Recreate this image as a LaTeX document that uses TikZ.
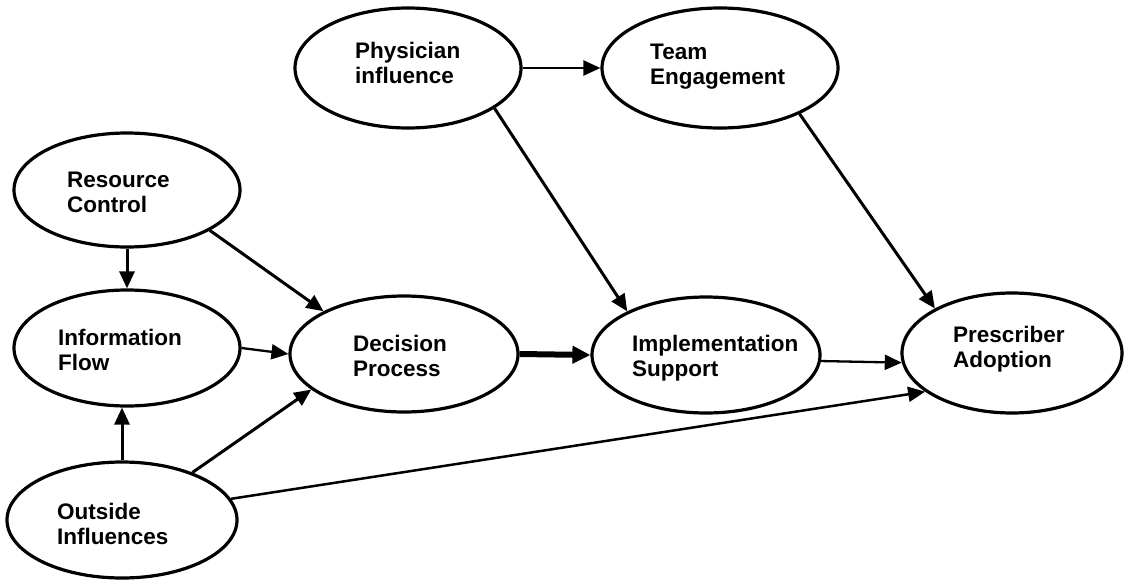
\documentclass[tikz,border=0pt]{standalone}
\usepackage{fontspec}
\setmainfont{Liberation Sans}
\usetikzlibrary{arrows.meta,shapes.geometric}
\begin{document}
\begin{tikzpicture}[x=1pt,y=-1pt,
  ell/.style={draw, ellipse, line width=3.2pt, inner sep=0pt},
  lbl/.style={anchor=west, align=left, inner sep=0pt, font=\fontsize{22.5}{25}\selectfont\bfseries},
  arr/.style={line width=3pt, -{Triangle[length=17pt,width=15pt]}},
  thinarr/.style={line width=2.3pt, -{Triangle[length=17pt,width=15pt]}},
  heavyarr/.style={line width=6pt, -{Triangle[length=18pt,width=17pt]}}]
\useasboundingbox (0,0) rectangle (1127,581);

% ellipses
\node[ell, minimum width=226pt, minimum height=120pt] (phys) at (408,68) {};
\node[ell, minimum width=236pt, minimum height=120pt] (team) at (720,68) {};
\node[ell, minimum width=226pt, minimum height=114pt] (res) at (127,190) {};
\node[ell, minimum width=226pt, minimum height=116pt] (info) at (127,348) {};
\node[ell, minimum width=228pt, minimum height=116pt] (dec) at (404,354) {};
\node[ell, minimum width=228pt, minimum height=116pt] (impl) at (706,355) {};
\node[ell, minimum width=220pt, minimum height=120pt] (pres) at (1012,353) {};
\node[ell, minimum width=230pt, minimum height=116pt] (out) at (122,520) {};

% labels
\node[lbl] (physT) at (355,63) {Physician\\influence};
\node[lbl] (teamT) at (650,67) {Team\\Engagement};
\node[lbl] (resT) at (67,192) {Resource\\Control};
\node[lbl] (infoT) at (58,350) {Information\\Flow};
\node[lbl] (decT) at (353,356) {Decision\\Process};
\node[lbl] (implT) at (632,358) {Implementation\\Support};
\node[lbl] (presT) at (953,349) {Prescriber\\Adoption};
\node[lbl] (outT) at (57,524) {Outside\\Influences};

% connectors
\draw[thinarr] (phys.east) -- (team.west);
\draw[arr] (phys.-25.5) -- (impl.151);
\draw[arr] (team.-30) -- (pres.150);
\draw[arr] (res.south) -- (info.north);
\draw[arr] (res.-26.6) -- (dec.152);
\draw[thinarr] (info.east) -- (dec.west);
\draw[arr] (out.north) -- (out.north |- info.south);
\draw[arr] (out.34.6) -- (dec.201);
\draw[heavyarr] (dec.east) -- (impl.west);
\draw[thinarr] (impl.-3.5) -- (pres.185);
\draw[arr, line width=2.5pt] (out.11.5) -- (pres.204);
\end{tikzpicture}
\end{document}
